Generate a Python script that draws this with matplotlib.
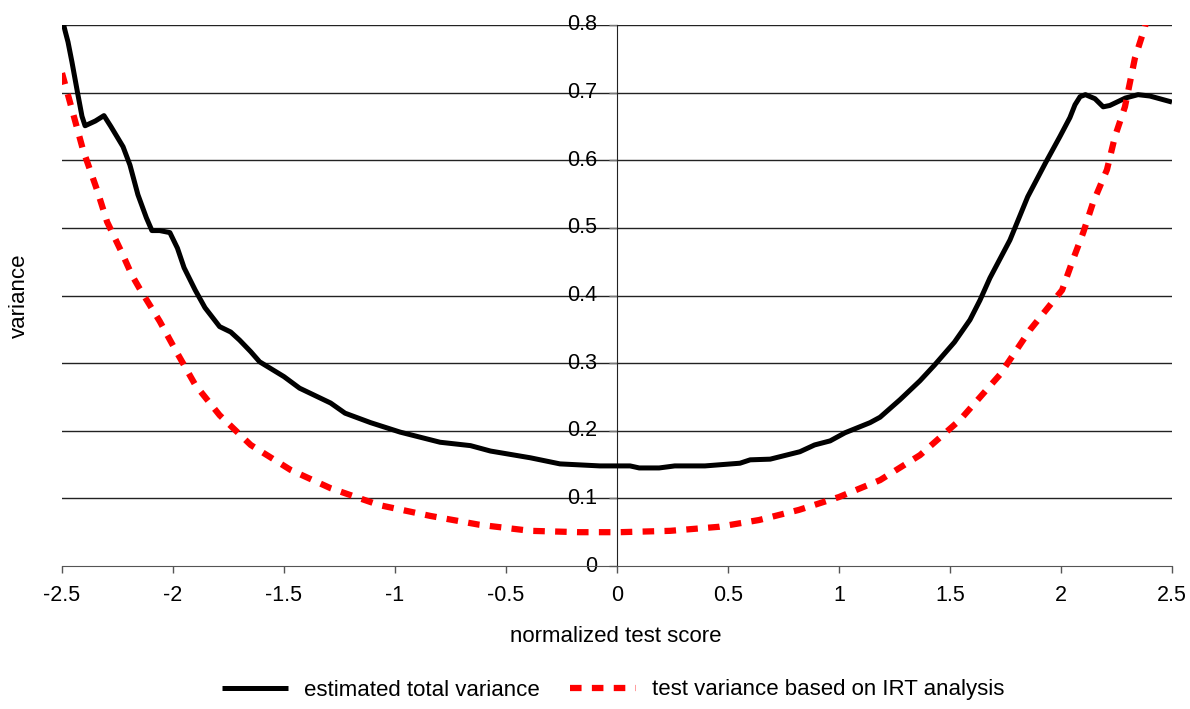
import numpy as np
import matplotlib.pyplot as plt

plt.rcParams['font.family'] = ['Liberation Sans', 'DejaVu Sans']

# estimated total variance (black solid)
total_x = [-2.5, -2.485, -2.473, -2.455, -2.43, -2.41, -2.396, -2.35, -2.311, -2.28, -2.225,
           -2.194, -2.158, -2.12, -2.095, -2.06, -2.014, -1.98, -1.95, -1.90, -1.856,
           -1.79, -1.74, -1.70, -1.65, -1.61, -1.50, -1.43, -1.29, -1.225, -1.11,
           -0.977, -0.797, -0.66, -0.57, -0.39, -0.257, -0.077, 0.059, 0.10, 0.19,
           0.26, 0.396, 0.554, 0.60, 0.69, 0.824, 0.89, 0.96, 1.027, 1.14, 1.185,
           1.275, 1.365, 1.43, 1.52, 1.59, 1.635, 1.68, 1.77, 1.85, 1.93, 1.995,
           2.04, 2.063, 2.086, 2.11, 2.153, 2.19, 2.22, 2.29, 2.347, 2.40, 2.5]
total_y = [0.81, 0.79, 0.775, 0.745, 0.70, 0.665, 0.651, 0.658, 0.666, 0.650, 0.620,
           0.593, 0.549, 0.515, 0.496, 0.496, 0.493, 0.470, 0.441, 0.408, 0.382,
           0.354, 0.346, 0.334, 0.317, 0.302, 0.280, 0.263, 0.241, 0.226, 0.212,
           0.198, 0.183, 0.178, 0.170, 0.160, 0.151, 0.148, 0.148, 0.145, 0.145,
           0.148, 0.148, 0.152, 0.157, 0.158, 0.169, 0.179, 0.185, 0.197, 0.212, 0.220,
           0.246, 0.274, 0.297, 0.331, 0.364, 0.393, 0.426, 0.482, 0.546, 0.596, 0.635,
           0.663, 0.682, 0.694, 0.697, 0.691, 0.679, 0.681, 0.692, 0.697, 0.695, 0.686]

# test variance based on IRT analysis (red dashed)
irt_x = [-2.5, -2.455, -2.405, -2.342, -2.297, -2.23, -2.185, -2.15, -2.06, -1.99,
         -1.90, -1.79, -1.65, -1.47, -1.29, -1.07, -0.84, -0.62, -0.39, -0.17,
         0.01, 0.24, 0.46, 0.64, 0.82, 1.0, 1.185, 1.365, 1.545, 1.725, 1.86,
         2.005, 2.054, 2.10, 2.144, 2.207, 2.243, 2.288, 2.333, 2.378, 2.42]
irt_y = [0.729, 0.675, 0.615, 0.556, 0.509, 0.463, 0.430, 0.410, 0.362, 0.320,
         0.268, 0.223, 0.179, 0.142, 0.115, 0.090, 0.074, 0.061, 0.052, 0.050,
         0.050, 0.052, 0.058, 0.068, 0.083, 0.102, 0.127, 0.164, 0.216, 0.283, 0.349,
         0.408, 0.453, 0.493, 0.537, 0.586, 0.635, 0.679, 0.751, 0.797, 0.86]

x_ticks = [-2.5, -2, -1.5, -1, -0.5, 0, 0.5, 1, 1.5, 2, 2.5]
x_labels = ['-2.5', '-2', '-1.5', '-1', '-0.5', '0', '0.5', '1', '1.5', '2', '2.5']
y_ticks = [0, 0.1, 0.2, 0.3, 0.4, 0.5, 0.6, 0.7, 0.8]
y_labels = ['0', '0.1', '0.2', '0.3', '0.4', '0.5', '0.6', '0.7', '0.8']

fig = plt.figure(figsize=(11.9, 7.09), dpi=100)
ax = fig.add_axes([62/1190, 143/709, 1110/1190, 541/709])

# grid lines
for yv in y_ticks[1:]:
    ax.axhline(yv, color='#222222', lw=1.0, zorder=1)

ax.plot(total_x, total_y, color='black', lw=3.6, solid_capstyle='butt',
        solid_joinstyle='round', label='estimated total variance', zorder=3)
ax.plot(irt_x, irt_y, color='#ff0000', lw=4.5, linestyle=(0, (1.85, 1.65)),
        label='test variance based on IRT analysis', zorder=3)

ax.set_xlim(-2.5, 2.5)
ax.set_ylim(0, 0.8)

ax.spines['top'].set_visible(False)
ax.spines['right'].set_visible(False)
ax.spines['left'].set_position(('data', 0))
ax.spines['left'].set_color('#222222')
ax.spines['bottom'].set_color('#555555')
ax.spines['left'].set_zorder(2)

ax.set_xticks(x_ticks)
ax.set_xticklabels(x_labels, fontsize=15.5)
ax.set_yticks(y_ticks)
ax.set_yticklabels(y_labels, fontsize=15.5)
ax.tick_params(axis='x', length=5, width=1, color='#555555', pad=9)
ax.tick_params(axis='y', length=6, width=1, color='#777777', pad=8)
for lab in ax.get_yticklabels():
    lab.set_verticalalignment('center')

fig.text(616/1190, 1 - 637/709, 'normalized test score', ha='center', va='center', fontsize=16)
fig.text(19/1190, 1 - 296/709, 'variance', ha='center', va='center', rotation=90, fontsize=16)

fig.legend(loc='center', bbox_to_anchor=(613/1190, 1 - 690/709), ncol=2, frameon=False,
           fontsize=16, handlelength=3.0, columnspacing=1.35, handletextpad=0.7)

fig.savefig('out.png', dpi=100)
